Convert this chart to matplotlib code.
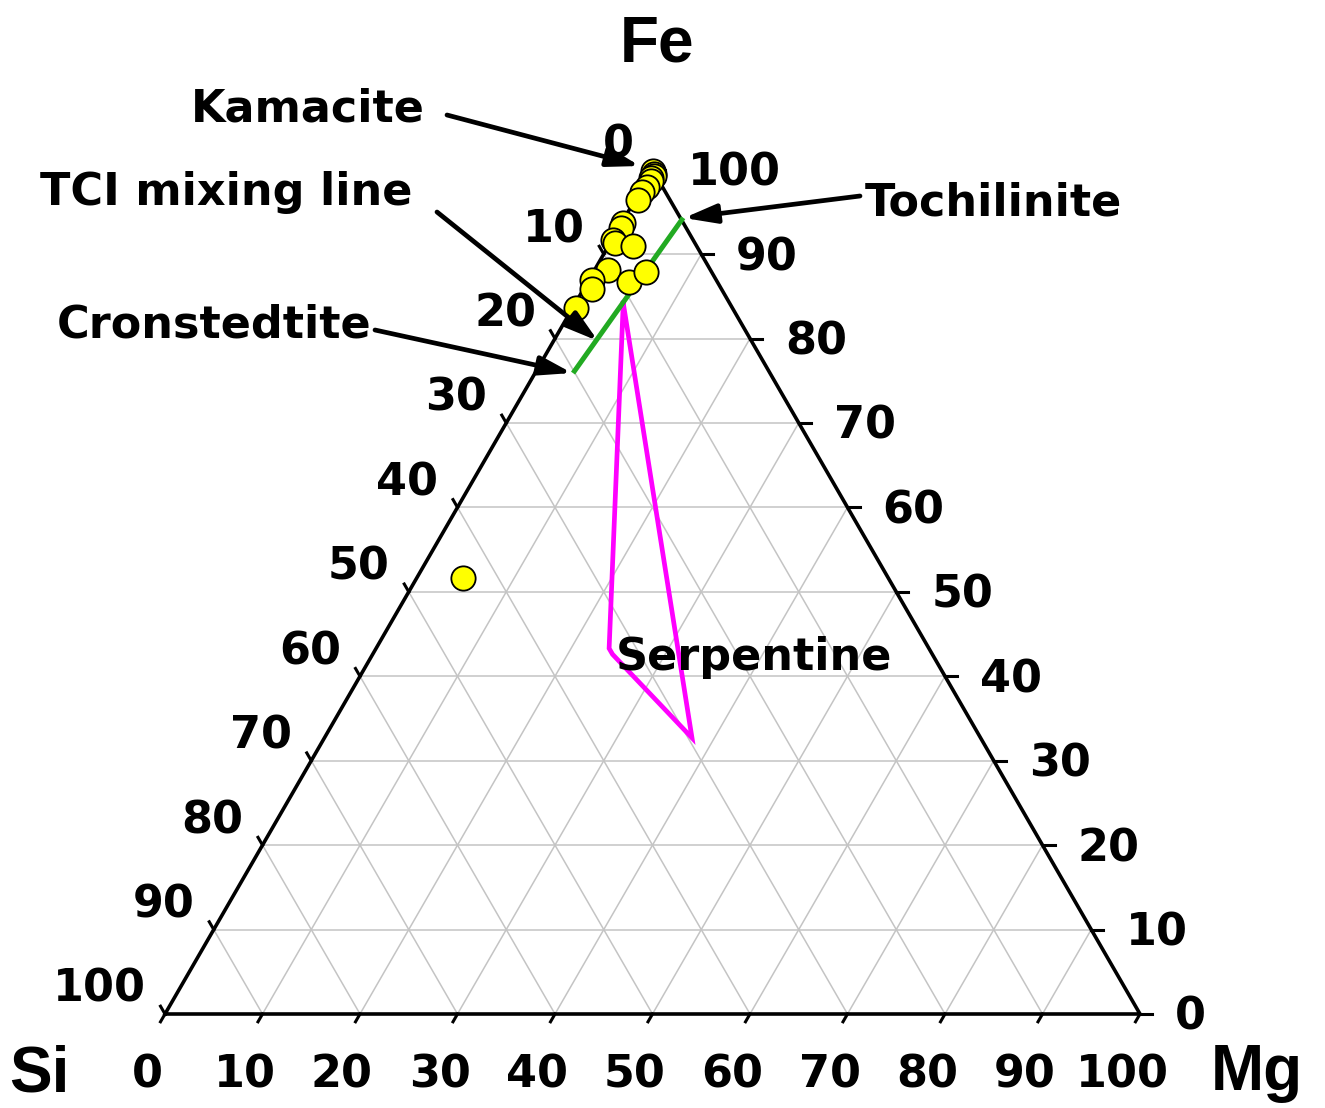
import numpy as np
import matplotlib
matplotlib.use('Agg')
import matplotlib.pyplot as plt

plt.rcParams['font.family'] = ['Liberation Sans', 'DejaVu Sans']

# ---------------- data ----------------
tick_values = [0, 10, 20, 30, 40, 50, 60, 70, 80, 90, 100]
tick_labels = [str(v) for v in tick_values]

# Analysed points (atomic %): Fe and Mg; Si is the remainder
sample_fe = [99.8, 99.5, 99.2, 99.0, 98.6, 98.0, 97.3, 96.4,
             93.7, 93.1, 91.7, 91.3, 90.9, 88.1, 86.9, 85.9, 86.7, 87.9, 83.6,
             51.6]
sample_mg = [0.1, 0.4, 0.6, 0.3, 0.5, 0.4, 0.3, 0.3,
             0.1, 0.2, 0.1, 0.5, 2.6, 1.4, 0.3, 0.8, 4.2, 5.4, 0.4,
             4.8]
sample_si = [100 - f - m for f, m in zip(sample_fe, sample_mg)]

# TCI mixing line: Tochilinite -> Cronstedtite
tci_fe = [94.3, 75.9]
tci_mg = [6.0, 3.9]

# Serpentine field outline
serp_fe = [84.2, 43.3, 42.6, 32.7, 84.2]
serp_mg = [4.9, 23.9, 24.6, 37.7, 4.9]

# ---------------- geometry ----------------
S = 9.75            # pixels per ternary unit
X0, Y0 = 165, 1014  # pixel position of Si vertex
H = np.sqrt(3) / 2


def txy(fe, mg):
    fe = np.asarray(fe, dtype=float)
    mg = np.asarray(mg, dtype=float)
    return mg + fe / 2.0, fe * H


def pix(px, py):
    return (px - X0) / S, (Y0 - py) / S


fig = plt.figure(figsize=(13.25, 11.08), dpi=100)
ax = fig.add_axes([0, 0, 1, 1])
ax.set_xlim(-X0 / S, (1325 - X0) / S)
ax.set_ylim(-(1108 - Y0) / S, Y0 / S)
ax.axis('off')

grid_c = '#c4c4c4'
for v in tick_values[1:-1]:
    # constant Fe
    x, y = txy([v, v], [0, 100 - v])
    ax.plot(x, y, color=grid_c, lw=1.1, zorder=1)
    # constant Mg
    x, y = txy([0, 100 - v], [v, v])
    ax.plot(x, y, color=grid_c, lw=1.1, zorder=1)
    # constant Si
    x, y = txy([0, 100 - v], [100 - v, 0])
    ax.plot(x, y, color=grid_c, lw=1.1, zorder=1)

# triangle frame
x, y = txy([0, 0, 100, 0], [0, 100, 0, 0])
ax.plot(x, y, color='black', lw=2.6, zorder=3, solid_joinstyle='miter')

tl = 9 / S
fs_tick = 32
tick_font = ['DejaVu Sans']
for v, lab in zip(tick_values, tick_labels):
    # bottom (Mg)
    bx, by = txy(0, v)
    ax.plot([bx, bx - 0.5 * tl], [by, by - H * tl], color='black', lw=2.2, zorder=3)
    ax.text(bx - 18 / S, by - 74 / S, lab, fontsize=fs_tick, fontweight='bold',
            family=tick_font, ha='center', va='baseline')
    # right (Fe)
    rx, ry = txy(v, 100 - v)
    ax.plot([rx, rx + 12 / S], [ry, ry], color='black', lw=2.2, zorder=3)
    ax.text(rx + 35 / S, ry - 16 / S, lab, fontsize=fs_tick, fontweight='bold',
            family=tick_font, ha='left', va='baseline')
    # left (Si)
    lx, ly = txy(100 - v, 0)
    ax.plot([lx, lx - 0.5 * tl], [ly, ly + H * tl], color='black', lw=2.2, zorder=3)
    ax.text(lx - 19 / S, ly + 12 / S, lab, fontsize=fs_tick, fontweight='bold',
            family=tick_font, ha='right', va='baseline')

# Serpentine field
x, y = txy(serp_fe, serp_mg)
ax.plot(x, y, color='#ff00ff', lw=3.4, zorder=4, solid_joinstyle='miter')

# TCI mixing line
x, y = txy(tci_fe, tci_mg)
ax.plot(x, y, color='#22aa22', lw=3.6, zorder=5, solid_capstyle='butt')

# sample points
x, y = txy(sample_fe, sample_mg)
ax.plot(x, y, 'o', ms=17.5, mfc='#ffff00', mec='black', mew=1.3, zorder=6, ls='none')

# vertex labels
fs_big = 46
ax.text(*pix(657, 62), 'Fe', fontsize=fs_big, fontweight='bold', ha='center', va='baseline')
ax.text(*pix(39, 1092), 'Si', fontsize=fs_big, fontweight='bold', ha='center', va='baseline')
ax.text(*pix(1257, 1090), 'Mg', fontsize=fs_big, fontweight='bold', ha='center', va='baseline')

# annotations
fs_ann = 32
ann_font = ['DejaVu Sans']
ax.text(*pix(308, 121), 'Kamacite', fontsize=fs_ann, fontweight='bold', family=ann_font,
        ha='center', va='baseline')
ax.text(*pix(226, 205), 'TCI mixing line', fontsize=fs_ann, fontweight='bold', family=ann_font,
        ha='center', va='baseline')
ax.text(*pix(993, 215), 'Tochilinite', fontsize=fs_ann, fontweight='bold', family=ann_font,
        ha='center', va='baseline')
ax.text(*pix(214, 338), 'Cronstedtite', fontsize=fs_ann, fontweight='bold', family=ann_font,
        ha='center', va='baseline')
ax.text(*pix(754, 670), 'Serpentine', fontsize=fs_ann, fontweight='bold', family=ann_font,
        ha='center', va='baseline', zorder=7)

arrow_style = dict(arrowstyle='-|>,head_length=0.75,head_width=0.22', lw=3.4,
                   color='black', shrinkA=0, shrinkB=0, mutation_scale=26)
arrows = [((447, 115), (640, 166)),
          ((437, 212), (598, 341)),
          ((860, 196), (684, 218)),
          ((375, 330), (572, 373))]
for tail, tip in arrows:
    ax.annotate('', xy=pix(*tip), xytext=pix(*tail), arrowprops=arrow_style, zorder=8)

fig.savefig('out.png', dpi=100)
